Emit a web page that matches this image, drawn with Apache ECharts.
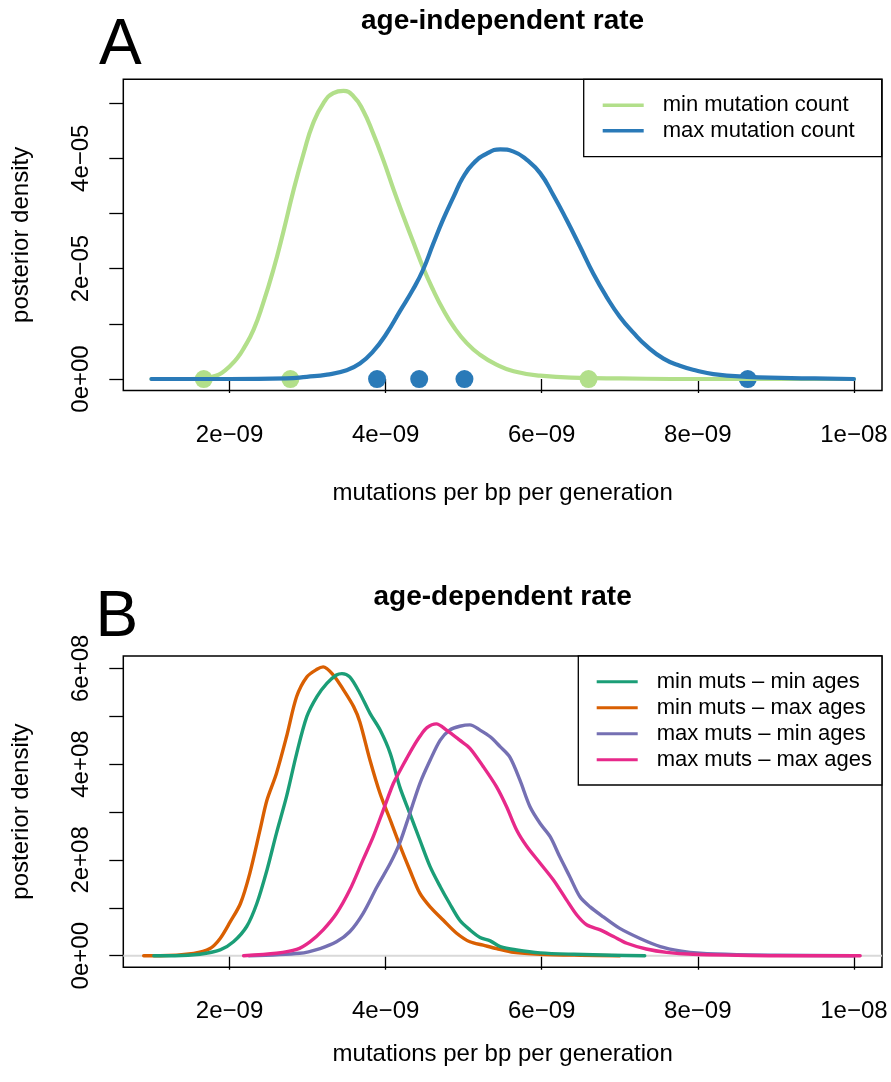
<!DOCTYPE html>
<html>
<head>
<meta charset="utf-8">
<script src="https://cdn.jsdelivr.net/npm/echarts@6/dist/echarts.min.js"></script>
<style>
  html, body { margin: 0; padding: 0; background: #fff; }
  #chart { width: 891px; height: 1082px; }
</style>
</head>
<body>
<div id="chart"></div>
<script>
// ---------- Panel A: age-independent rate (posterior density curves) ----------
const minCountCurve = [
  [1.00e-9, 0], [1.50e-9, 0], [1.67e-9, 0.01e-5], [1.80e-9, 0.05e-5], [1.90e-9, 0.11e-5],
  [2.01e-9, 0.24e-5], [2.10e-9, 0.38e-5], [2.18e-9, 0.55e-5], [2.31e-9, 0.90e-5], [2.43e-9, 1.37e-5],
  [2.56e-9, 1.97e-5], [2.69e-9, 2.67e-5], [2.82e-9, 3.42e-5], [2.95e-9, 4.09e-5], [3.07e-9, 4.63e-5],
  [3.20e-9, 4.99e-5], [3.33e-9, 5.18e-5], [3.46e-9, 5.22e-5], [3.59e-9, 5.12e-5], [3.71e-9, 4.87e-5],
  [3.84e-9, 4.45e-5], [3.97e-9, 3.97e-5], [4.10e-9, 3.44e-5], [4.23e-9, 2.94e-5], [4.36e-9, 2.46e-5],
  [4.48e-9, 2.02e-5], [4.61e-9, 1.61e-5], [4.74e-9, 1.25e-5], [4.87e-9, 0.95e-5], [5.04e-9, 0.65e-5],
  [5.21e-9, 0.44e-5], [5.42e-9, 0.26e-5], [5.64e-9, 0.14e-5], [5.98e-9, 0.06e-5], [6.49e-9, 0.02e-5],
  [7.00e-9, 0.01e-5], [8.00e-9, 0], [1.00e-8, 0]
];
const maxCountCurve = [
  [1.00e-9, 0], [2.00e-9, 0], [2.73e-9, 0.01e-5], [2.99e-9, 0.04e-5], [3.25e-9, 0.08e-5],
  [3.50e-9, 0.16e-5], [3.67e-9, 0.28e-5], [3.84e-9, 0.50e-5], [4.01e-9, 0.82e-5], [4.18e-9, 1.22e-5],
  [4.35e-9, 1.62e-5], [4.48e-9, 1.98e-5], [4.61e-9, 2.45e-5], [4.74e-9, 2.90e-5], [4.87e-9, 3.30e-5],
  [4.99e-9, 3.65e-5], [5.12e-9, 3.90e-5], [5.29e-9, 4.08e-5], [5.47e-9, 4.16e-5], [5.64e-9, 4.12e-5],
  [5.81e-9, 3.97e-5], [5.98e-9, 3.73e-5], [6.15e-9, 3.33e-5], [6.32e-9, 2.88e-5], [6.49e-9, 2.40e-5],
  [6.66e-9, 1.91e-5], [6.83e-9, 1.49e-5], [7.00e-9, 1.13e-5], [7.18e-9, 0.83e-5], [7.35e-9, 0.59e-5],
  [7.56e-9, 0.37e-5], [7.77e-9, 0.24e-5], [7.99e-9, 0.15e-5], [8.20e-9, 0.09e-5], [8.63e-9, 0.04e-5],
  [9.06e-9, 0.02e-5], [9.50e-9, 0.01e-5], [1.00e-8, 0]
];
// point estimates shown as dots on the baseline
const minCountRates = [1.67e-9, 2.78e-9, 6.60e-9];
const maxCountRates = [3.89e-9, 4.43e-9, 5.01e-9, 8.64e-9];

// ---------- Panel B: age-dependent rate ----------
const minMutsMinAges = [
  [1.03e-9, 0], [1.30e-9, 0], [1.62e-9, 0.03e8], [1.88e-9, 0.12e8], [2.05e-9, 0.29e8],
  [2.22e-9, 0.61e8], [2.35e-9, 1.09e8], [2.48e-9, 1.79e8], [2.60e-9, 2.55e8], [2.73e-9, 3.32e8],
  [2.86e-9, 4.22e8], [2.99e-9, 4.99e8], [3.12e-9, 5.41e8], [3.25e-9, 5.69e8], [3.37e-9, 5.86e8],
  [3.44e-9, 5.89e8], [3.54e-9, 5.82e8], [3.67e-9, 5.48e8], [3.80e-9, 5.06e8], [3.93e-9, 4.71e8],
  [4.06e-9, 4.22e8], [4.18e-9, 3.53e8], [4.31e-9, 2.97e8], [4.44e-9, 2.41e8], [4.57e-9, 1.86e8],
  [4.70e-9, 1.44e8], [4.82e-9, 1.09e8], [4.95e-9, 0.74e8], [5.08e-9, 0.54e8], [5.21e-9, 0.38e8],
  [5.34e-9, 0.31e8], [5.47e-9, 0.19e8], [5.68e-9, 0.12e8], [5.98e-9, 0.06e8], [6.41e-9, 0.03e8],
  [6.90e-9, 0.01e8], [7.32e-9, 0]
];
const minMutsMaxAges = [
  [0.90e-9, 0], [1.11e-9, 0], [1.54e-9, 0.05e8], [1.75e-9, 0.15e8], [1.88e-9, 0.36e8],
  [2.01e-9, 0.71e8], [2.14e-9, 1.09e8], [2.26e-9, 1.72e8], [2.39e-9, 2.62e8], [2.48e-9, 3.25e8],
  [2.60e-9, 3.80e8], [2.73e-9, 4.57e8], [2.86e-9, 5.41e8], [2.99e-9, 5.82e8], [3.12e-9, 5.98e8],
  [3.20e-9, 6.03e8], [3.33e-9, 5.86e8], [3.46e-9, 5.55e8], [3.59e-9, 5.20e8], [3.67e-9, 4.88e8],
  [3.80e-9, 4.08e8], [3.93e-9, 3.38e8], [4.06e-9, 2.83e8], [4.19e-9, 2.27e8], [4.31e-9, 1.79e8],
  [4.44e-9, 1.30e8], [4.57e-9, 1.02e8], [4.74e-9, 0.74e8], [4.91e-9, 0.47e8], [5.08e-9, 0.29e8],
  [5.25e-9, 0.22e8], [5.42e-9, 0.15e8], [5.64e-9, 0.07e8], [5.98e-9, 0.03e8], [6.50e-9, 0.01e8],
  [7.00e-9, 0]
];
const maxMutsMinAges = [
  [2.25e-9, 0], [2.90e-9, 0.05e8], [3.16e-9, 0.15e8], [3.37e-9, 0.29e8], [3.54e-9, 0.50e8],
  [3.71e-9, 0.88e8], [3.89e-9, 1.44e8], [4.06e-9, 1.93e8], [4.18e-9, 2.35e8], [4.31e-9, 2.97e8],
  [4.44e-9, 3.60e8], [4.57e-9, 4.08e8], [4.70e-9, 4.50e8], [4.82e-9, 4.71e8], [4.95e-9, 4.79e8],
  [5.08e-9, 4.82e8], [5.21e-9, 4.71e8], [5.34e-9, 4.57e8], [5.47e-9, 4.36e8], [5.59e-9, 4.15e8],
  [5.72e-9, 3.67e8], [5.85e-9, 3.11e8], [5.98e-9, 2.76e8], [6.11e-9, 2.48e8], [6.23e-9, 2.07e8],
  [6.36e-9, 1.65e8], [6.49e-9, 1.23e8], [6.62e-9, 1.02e8], [6.79e-9, 0.81e8], [7.00e-9, 0.57e8],
  [7.26e-9, 0.36e8], [7.52e-9, 0.19e8], [7.77e-9, 0.10e8], [8.03e-9, 0.05e8], [8.50e-9, 0.02e8],
  [9.00e-9, 0.01e8], [1.00e-8, 0]
];
const maxMutsMaxAges = [
  [2.18e-9, 0], [2.60e-9, 0.05e8], [2.86e-9, 0.13e8], [3.03e-9, 0.29e8], [3.20e-9, 0.54e8],
  [3.37e-9, 0.88e8], [3.54e-9, 1.37e8], [3.71e-9, 2.00e8], [3.84e-9, 2.48e8], [3.97e-9, 3.04e8],
  [4.10e-9, 3.60e8], [4.18e-9, 3.85e8], [4.27e-9, 4.12e8], [4.35e-9, 4.35e8], [4.44e-9, 4.58e8],
  [4.53e-9, 4.76e8], [4.65e-9, 4.84e8], [4.78e-9, 4.71e8], [4.95e-9, 4.50e8], [5.08e-9, 4.33e8],
  [5.25e-9, 3.95e8], [5.42e-9, 3.53e8], [5.55e-9, 3.11e8], [5.68e-9, 2.62e8], [5.81e-9, 2.28e8],
  [5.98e-9, 1.93e8], [6.15e-9, 1.58e8], [6.32e-9, 1.16e8], [6.45e-9, 0.85e8], [6.58e-9, 0.64e8],
  [6.75e-9, 0.54e8], [6.92e-9, 0.40e8], [7.09e-9, 0.26e8], [7.34e-9, 0.14e8], [7.60e-9, 0.07e8],
  [7.94e-9, 0.03e8], [8.50e-9, 0.01e8], [9.00e-9, 0], [1.008e-8, 0]
];

// ---------- axes: limits, ticks and tick labels ----------
const xLimits = [0.639e-9, 1.036e-8];
const xTickValues = [2e-9, 4e-9, 6e-9, 8e-9, 1e-8];
const xTickLabels = ['2e\u221209', '4e\u221209', '6e\u221209', '8e\u221209', '1e\u221208'];

const yLimitsA = [-0.208e-5, 5.43e-5];
const yTickValuesA = [0, 1e-5, 2e-5, 3e-5, 4e-5, 5e-5];
const yLabelValuesA = [0, 2e-5, 4e-5];
const yTickLabelsA = ['0e+00', '2e\u221205', '4e\u221205'];

const yLimitsB = [-0.242e8, 6.257e8];
const yTickValuesB = [0, 1e8, 2e8, 3e8, 4e8, 5e8, 6e8];
const yLabelValuesB = [0, 2e8, 4e8, 6e8];
const yTickLabelsB = ['0e+00', '2e+08', '4e+08', '6e+08'];

const seriesNamesA = ['min mutation count', 'max mutation count'];
const seriesNamesB = ['min muts \u2013 min ages', 'min muts \u2013 max ages', 'max muts \u2013 min ages', 'max muts \u2013 max ages'];

const COLORS = {
  lightGreen: '#B2DF8A', blue: '#2A7AB8',
  teal: '#1B9E77', orange: '#D95F02', purple: '#7570B3', pink: '#E7298A'
};
const FONT = '"Liberation Sans", Arial, Helvetica, sans-serif';

function labelLookup(values, labels) {
  return function (v) {
    for (let i = 0; i < values.length; i++) {
      if (Math.abs(values[i] - v) <= Math.abs(values[i]) * 1e-6) return labels[i];
    }
    return '';
  };
}

function xAxisFor(gridIndex, nameGap) {
  return {
    type: 'value', gridIndex: gridIndex, min: xLimits[0], max: xLimits[1],
    axisLine: { show: false }, splitLine: { show: false },
    axisTick: { show: true, inside: false, length: 14, customValues: xTickValues,
                lineStyle: { color: '#000', width: 1.3 } },
    axisLabel: { show: true, customValues: xTickValues, hideOverlap: false,
                 formatter: labelLookup(xTickValues, xTickLabels),
                 margin: 32.5, fontSize: 24, fontFamily: FONT, color: '#000' },
    name: 'mutations per bp per generation', nameLocation: 'middle', nameGap: nameGap,
    nameTextStyle: { fontSize: 24, fontFamily: FONT, color: '#000' }
  };
}

function yAxisFor(gridIndex, limits, tickValues, labelValues, labels) {
  return {
    type: 'value', gridIndex: gridIndex, min: limits[0], max: limits[1],
    axisLine: { show: false }, splitLine: { show: false },
    axisTick: { show: true, inside: false, length: 14, customValues: tickValues,
                lineStyle: { color: '#000', width: 1.3 } },
    axisLabel: { show: true, customValues: labelValues, hideOverlap: false, rotate: 90,
                 formatter: labelLookup(labelValues, labels),
                 margin: 29.6, fontSize: 24, fontFamily: FONT, color: '#000' },
    name: 'posterior density', nameLocation: 'middle', nameGap: 89.6,
    nameTextStyle: { fontSize: 24, fontFamily: FONT, color: '#000' }
  };
}

function curve(name, data, color, width, xi, yi, smooth) {
  return {
    type: 'line', name: name, data: data, xAxisIndex: xi, yAxisIndex: yi,
    showSymbol: false, symbol: 'none', smooth: smooth, clip: true,
    lineStyle: { color: color, width: width, cap: 'round', join: 'round' },
    itemStyle: { color: color }, silent: true
  };
}

function dots(name, rates, color) {
  return {
    type: 'scatter', name: name, xAxisIndex: 0, yAxisIndex: 0,
    data: rates.map(r => [r, 0]), symbol: 'circle', symbolSize: 18,
    itemStyle: { color: color, opacity: 1 }, silent: true
  };
}

const chart = echarts.init(document.getElementById('chart'), null, { renderer: 'canvas' });

chart.setOption({
  animation: false,
  backgroundColor: '#ffffff',
  title: [
    { text: 'age-independent rate', left: 502.6, top: 7, textAlign: 'center', padding: 0,
      textStyle: { fontSize: 28, fontWeight: 'bold', fontFamily: FONT, color: '#000' } },
    { text: 'A', left: 99, top: 14, padding: 0,
      textStyle: { fontSize: 64, fontWeight: 'normal', fontFamily: FONT, color: '#000' } },
    { text: 'age-dependent rate', left: 502.6, top: 583, textAlign: 'center', padding: 0,
      textStyle: { fontSize: 28, fontWeight: 'bold', fontFamily: FONT, color: '#000' } },
    { text: 'B', left: 95.5, top: 586.5, padding: 0,
      textStyle: { fontSize: 64, fontWeight: 'normal', fontFamily: FONT, color: '#000' } }
  ],
  grid: [
    { left: 123.3, top: 79.3, right: 9, height: 311.2, show: true, backgroundColor: 'transparent',
      borderColor: '#000', borderWidth: 1.5, containLabel: false, outerBoundsMode: 'none' },
    { left: 123.3, top: 656, right: 9, height: 311.3, show: true, backgroundColor: 'transparent',
      borderColor: '#000', borderWidth: 1.5, containLabel: false, outerBoundsMode: 'none' }
  ],
  legend: [
    { data: seriesNamesA, orient: 'vertical', left: 583.7, top: 79.3, selectedMode: false,
      icon: 'rect', itemWidth: 41, itemHeight: 3.5, itemGap: 0,
      padding: [13, 27, 13, 19], borderColor: '#000', borderWidth: 1.3, borderRadius: 0,
      backgroundColor: '#fff',
      textStyle: { fontSize: 22, fontFamily: FONT, color: '#000', lineHeight: 25.7, padding: [0, 0, 0, 14] } },
    { data: seriesNamesB, orient: 'vertical', left: 578.3, top: 656, selectedMode: false,
      icon: 'rect', itemWidth: 41, itemHeight: 3, itemGap: 0,
      padding: [12.7, 10, 12.3, 18.4], borderColor: '#000', borderWidth: 1.3, borderRadius: 0,
      backgroundColor: '#fff',
      textStyle: { fontSize: 22, fontFamily: FONT, color: '#000', lineHeight: 26, padding: [0, 0, 0, 14] } }
  ],
  xAxis: [xAxisFor(0, 91), xAxisFor(1, 75)],
  yAxis: [
    yAxisFor(0, yLimitsA, yTickValuesA, yLabelValuesA, yTickLabelsA),
    yAxisFor(1, yLimitsB, yTickValuesB, yLabelValuesB, yTickLabelsB)
  ],
  series: [
    curve(seriesNamesA[0], minCountCurve, COLORS.lightGreen, 4.2, 0, 0, 0.5),
    curve(seriesNamesA[1], maxCountCurve, COLORS.blue, 4.2, 0, 0, 0.5),
    dots('min mutation count rates', minCountRates, COLORS.lightGreen),
    dots('max mutation count rates', maxCountRates, COLORS.blue),

    // light reference line at zero density
    { type: 'line', name: 'zero', xAxisIndex: 1, yAxisIndex: 1, data: [[xLimits[0], 0], [xLimits[1], 0]],
      showSymbol: false, symbol: 'none', silent: true,
      lineStyle: { color: '#d9d9d9', width: 2 } },
    curve(seriesNamesB[1], minMutsMaxAges, COLORS.orange, 3.4, 1, 1, 0.3),
    curve(seriesNamesB[0], minMutsMinAges, COLORS.teal, 3.4, 1, 1, 0.3),
    curve(seriesNamesB[2], maxMutsMinAges, COLORS.purple, 3.4, 1, 1, 0.3),
    curve(seriesNamesB[3], maxMutsMaxAges, COLORS.pink, 3.4, 1, 1, 0.3)
  ]
});
</script>
</body>
</html>
